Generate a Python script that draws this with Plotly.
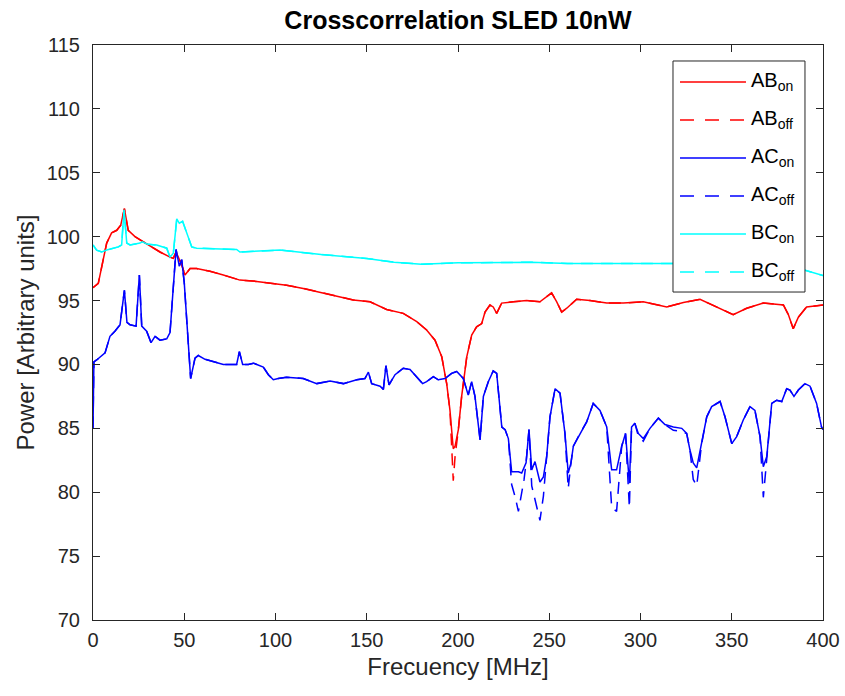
import plotly.graph_objects as go

# Frequency grids (MHz) and power readings (arbitrary units)
ab_freq = [0, 2.9, 5.6, 7.5, 10.2, 13, 15.2, 17.2, 19.3, 23, 27.6, 32.2, 36.7, 42.2, 44, 45.5,
           48.6, 50.4, 53.2, 56.8, 64.1, 71.4, 80.5, 89.7, 97, 106.1, 115.2, 124.4, 133.5,
           142.6, 151.8, 160.9, 170, 177.4, 182.8, 187.4, 191.1, 193.8, 195.6, 197.4, 198.4,
           200.2, 202, 204.8, 207.5, 210.2, 213, 214.8, 217.5, 219.3, 221.2, 223.9, 230.3,
           237.6, 244.9, 251.3, 254.1, 256.8, 259.6, 265, 272.3, 281.5, 290.6, 301.5, 314.4,
           323.5, 332.6, 341.8, 350.8, 358.2, 367.3, 378.3, 381, 383.7, 386.5, 391, 400]
ab_on = [96.0, 96.35, 98.2, 99.5, 100.3, 100.5, 100.9, 102.2, 100.5, 100.0, 99.6, 99.2, 98.8,
         98.4, 98.3, 98.8, 97.8, 97.0, 97.5, 97.5, 97.3, 97.0, 96.6, 96.5, 96.35, 96.2, 95.95,
         95.65, 95.3, 95.05, 94.9, 94.3, 94.0, 93.35, 92.7, 91.9, 90.6, 88.5, 86.4, 83.4, 83.6,
         84.9, 87.5, 90.6, 92.3, 92.95, 93.2, 94.1, 94.65, 94.5, 94.0, 94.8, 94.9, 95.0, 94.9,
         95.6, 94.9, 94.1, 94.4, 95.1, 95.0, 94.8, 94.8, 94.9, 94.5, 94.85, 95.1, 94.5, 93.9,
         94.4, 94.8, 94.65, 93.9, 92.8, 93.7, 94.5, 94.65]
ab_off = [96.0, 96.35, 98.2, 99.5, 100.3, 100.5, 100.9, 102.2, 100.5, 100.0, 99.6, 99.2, 98.8,
          98.4, 98.3, 98.8, 97.8, 97.0, 97.5, 97.5, 97.3, 97.0, 96.6, 96.5, 96.35, 96.2, 95.95,
          95.65, 95.3, 95.05, 94.9, 94.3, 94.0, 93.35, 92.7, 91.9, 90.6, 88.5, 86.4, 80.9, 82.8,
          84.9, 87.5, 90.6, 92.3, 92.95, 93.2, 94.1, 94.65, 94.5, 94.0, 94.8, 94.9, 95.0, 94.9,
          95.6, 94.9, 94.1, 94.4, 95.1, 95.0, 94.8, 94.8, 94.9, 94.5, 94.85, 95.1, 94.5, 93.9,
          94.4, 94.8, 94.65, 93.9, 92.8, 93.7, 94.5, 94.65]

ac_freq = [0, 0.5, 2, 6.6, 9.3, 12, 14.8, 17.2, 18.6, 20.3, 23.6, 25.4, 26.7, 29.4, 31.8, 34,
           36.7, 40.4, 42.2, 44, 45.5, 47.3, 48.6, 50, 52.2, 53.5, 55.9, 57.7, 61.4, 71.4, 78.7,
           80.2, 82, 85.1, 87.9, 93.3, 96.1, 98.8, 101.5, 106, 115.2, 122.6, 129.9, 137.2, 144.5,
           149, 150.9, 152.7, 157.3, 159.1, 160.5, 162.2, 165.5, 170, 173.7, 177.4, 180.6, 182.8,
           186.5, 189.2, 192.9, 196.5, 199.3, 202.9, 205.6, 207.5, 209.3, 212.1, 213.9, 216.6,
           219.3, 221.2, 224, 225.8, 227.6, 229.4, 231.2, 233.1, 234.9, 236.2, 237.3, 238.9,
           240.4, 242.2, 244.9, 246.8, 248.6, 250.4, 253.2, 255.9, 258.6, 260.4, 261.9, 263.2,
           266.8, 270.5, 274.1, 277.8, 281.5, 284.2, 286.9, 289.7, 291.8, 293.9, 295.1, 296.9,
           298.8, 301.5, 305.2, 309.8, 313.4, 318, 322.6, 325.3, 327.1, 328.9, 330.8, 333.5,
           336.3, 339, 343.6, 346.3, 350, 352.7, 356.3, 360, 362.7, 365.5, 367.3, 369.2, 371.9,
           374.6, 377.4, 380.1, 381.9, 384.1, 386.5, 390.1, 392.9, 396.5, 399.2, 400]
ac_on = [85.0, 90.2, 90.35, 90.9, 92.2, 92.6, 93.1, 95.8, 93.3, 93.1, 93.0, 97.0, 93.0, 92.6,
         91.7, 92.2, 91.9, 92.0, 92.5, 96.4, 99.0, 97.7, 98.2, 96.4, 91.4, 88.9, 90.5, 90.7,
         90.4, 90.0, 90.0, 91.0, 90.0, 90.0, 90.1, 89.8, 89.2, 88.8, 88.9, 89.0, 88.9, 88.5,
         88.7, 88.5, 88.8, 88.9, 89.4, 88.5, 88.3, 88.05, 89.9, 88.4, 89.2, 89.7, 89.6, 89.05,
         88.5, 88.65, 89.05, 88.8, 88.9, 89.3, 89.45, 88.9, 87.6, 88.65, 87.5, 84.1, 87.5,
         88.65, 89.5, 89.3, 85.1, 84.9, 84.2, 81.6, 81.6, 81.6, 81.5, 81.9, 82.3, 84.9, 81.75,
         82.4, 80.8, 81.2, 82.8, 85.9, 88.1, 87.75, 84.6, 81.5, 82.3, 83.6, 84.6, 85.5, 86.95,
         86.4, 85.1, 81.75, 81.75, 83.6, 84.6, 80.7, 85.1, 85.4, 84.6, 84.2, 85.0, 85.8, 85.3,
         85.1, 85.0, 84.6, 83.3, 82.3, 81.9, 83.8, 85.9, 86.7, 87.1, 85.9, 83.8, 84.35, 85.65,
         86.7, 86.4, 84.35, 82.0, 82.8, 86.95, 87.2, 87.1, 88.1, 88.0, 87.5, 88.0, 88.5, 88.3,
         86.95, 85.1, 84.9]
ac_off = [85.0, 90.2, 90.35, 90.9, 92.2, 92.6, 93.1, 95.8, 93.3, 93.1, 93.0, 97.0, 93.0, 92.6,
          91.7, 92.2, 91.9, 92.0, 92.5, 96.4, 99.0, 97.7, 98.2, 96.4, 91.4, 88.9, 90.5, 90.7,
          90.4, 90.0, 90.0, 91.0, 90.0, 90.0, 90.1, 89.8, 89.2, 88.8, 88.9, 89.0, 88.9, 88.5,
          88.7, 88.5, 88.8, 88.9, 89.4, 88.5, 88.3, 88.05, 89.9, 88.4, 89.2, 89.7, 89.6, 89.05,
          88.5, 88.65, 89.05, 88.8, 88.9, 89.3, 89.45, 88.9, 87.6, 88.65, 87.5, 84.1, 87.5,
          88.65, 89.5, 89.3, 85.1, 84.9, 84.2, 80.6, 79.7, 78.5, 80.0, 81.0, 82.3, 84.9, 80.5,
          79.5, 77.8, 79.7, 82.8, 85.9, 88.1, 87.75, 84.6, 80.3, 82.3, 83.6, 84.6, 85.5, 86.95,
          86.4, 85.1, 78.8, 78.5, 83.6, 84.6, 78.8, 85.1, 85.4, 84.4, 84.0, 85.0, 85.8, 85.3,
          84.85, 84.75, 84.6, 83.3, 81.0, 80.5, 83.8, 85.9, 86.7, 87.1, 85.9, 83.8, 84.35, 85.65,
          86.7, 86.4, 84.35, 79.6, 82.8, 86.95, 87.2, 87.1, 88.1, 88.0, 87.5, 88.0, 88.5, 88.3,
          86.95, 85.1, 84.9]

bc_freq = [0, 2, 4.8, 7.5, 13.9, 15.7, 17, 18.5, 20.3, 25.8, 27, 30, 34.9, 40.4, 42.2, 44,
           45.9, 47.3, 49.1, 51.3, 54.1, 56.8, 78.7, 80.5, 102.5, 125, 150, 165, 180, 200, 240,
           260, 290, 320, 350, 380, 391, 400]
bc_on = [99.35, 98.95, 98.8, 98.95, 99.2, 99.35, 102.1, 99.5, 99.35, 99.5, 99.6, 99.4, 99.35,
         99.1, 98.4, 98.7, 101.4, 101.05, 101.2, 100.3, 99.2, 99.1, 99.0, 98.8, 98.95, 98.6,
         98.3, 98.0, 97.85, 97.95, 98.0, 97.9, 97.9, 97.95, 97.9, 97.8, 97.3, 96.95]
bc_off = [99.35, 98.95, 98.8, 98.95, 99.2, 99.35, 102.1, 99.5, 99.35, 99.5, 99.6, 99.4, 99.35,
          99.1, 98.4, 98.7, 101.4, 101.05, 101.2, 100.3, 99.2, 99.1, 99.0, 98.8, 98.95, 98.6,
          98.3, 98.0, 97.85, 97.95, 98.0, 97.9, 97.9, 97.95, 97.9, 97.8, 97.3, 96.95]

series = [
    ("AB<sub>on</sub>", ab_freq, ab_on, "#ff0000", "solid"),
    ("AB<sub>off</sub>", ab_freq, ab_off, "#ff0000", "dash"),
    ("AC<sub>on</sub>", ac_freq, ac_on, "#0000ff", "solid"),
    ("AC<sub>off</sub>", ac_freq, ac_off, "#0000ff", "dash"),
    ("BC<sub>on</sub>", bc_freq, bc_on, "#00ffff", "solid"),
    ("BC<sub>off</sub>", bc_freq, bc_off, "#00ffff", "dash"),
]

FONT = "Liberation Sans, Arial, Helvetica, sans-serif"
AXIS_COLOR = "#262626"
LW = 1.5

fig = go.Figure()
# draw "off" curves first so the solid "on" curves sit above where they coincide
for name, fx, fy, color, dash in series:
    if dash == "dash":
        fig.add_trace(go.Scatter(x=fx, y=fy, mode="lines", name=name, showlegend=False,
                                 line=dict(color=color, width=LW, dash="12px,8px")))
for name, fx, fy, color, dash in series:
    if dash == "solid":
        fig.add_trace(go.Scatter(x=fx, y=fy, mode="lines", name=name, showlegend=False,
                                 line=dict(color=color, width=LW)))

# boxed legend in the upper right of the axes
shapes = [dict(type="rect", xref="paper", yref="paper", x0=0.7945, x1=0.9753,
               y0=0.5704, y1=0.9722, line=dict(color=AXIS_COLOR, width=1),
               fillcolor="white", layer="above")]
annotations = []
row_px = [82, 120, 158, 196, 234, 272]
for (name, fx, fy, color, dash), py in zip(series, row_px):
    yp = (620 - py) / 575
    shapes.append(dict(type="line", xref="paper", yref="paper", x0=0.8041, x1=0.8945,
                       y0=yp, y1=yp, layer="above",
                       line=dict(color=color, width=LW,
                                 dash="solid" if dash == "solid" else "14px,11px")))
    annotations.append(dict(xref="paper", yref="paper", x=0.8986, y=yp, text=name,
                            showarrow=False, xanchor="left", yanchor="middle", yshift=1,
                            font=dict(family=FONT, size=20, color="#000000")))

fig.update_layout(
    width=845, height=696,
    margin=dict(l=93, r=22, t=45, b=76, autoexpand=False),
    paper_bgcolor="white", plot_bgcolor="white",
    font=dict(family=FONT, color=AXIS_COLOR),
    title=dict(text="<b>Crosscorrelation SLED 10nW</b>", x=0.5, xref="paper",
               y=1 - 20 / 696, yanchor="middle",
               font=dict(family=FONT, size=25, color="#000000")),
    showlegend=False,
    shapes=shapes,
    annotations=annotations,
)
fig.update_xaxes(range=[0, 400], dtick=50, tick0=0, showgrid=False, zeroline=False,
                 showline=True, linecolor=AXIS_COLOR, linewidth=1, mirror="ticks",
                 ticks="inside", ticklen=7, tickcolor=AXIS_COLOR, ticklabelstandoff=2,
                 automargin=False,
                 tickfont=dict(family=FONT, size=20, color=AXIS_COLOR),
                 title=dict(text="Frecuency [MHz]", standoff=8,
                            font=dict(family=FONT, size=24, color=AXIS_COLOR)))
fig.update_yaxes(range=[70, 115], dtick=5, tick0=70, showgrid=False, zeroline=False,
                 showline=True, linecolor=AXIS_COLOR, linewidth=1, mirror="ticks",
                 ticks="inside", ticklen=7, tickcolor=AXIS_COLOR, ticklabelstandoff=8,
                 automargin=False,
                 tickfont=dict(family=FONT, size=20, color=AXIS_COLOR),
                 title=dict(text="Power [Arbitrary units]", standoff=5,
                            font=dict(family=FONT, size=24, color=AXIS_COLOR)))

fig.write_html("out.html")
